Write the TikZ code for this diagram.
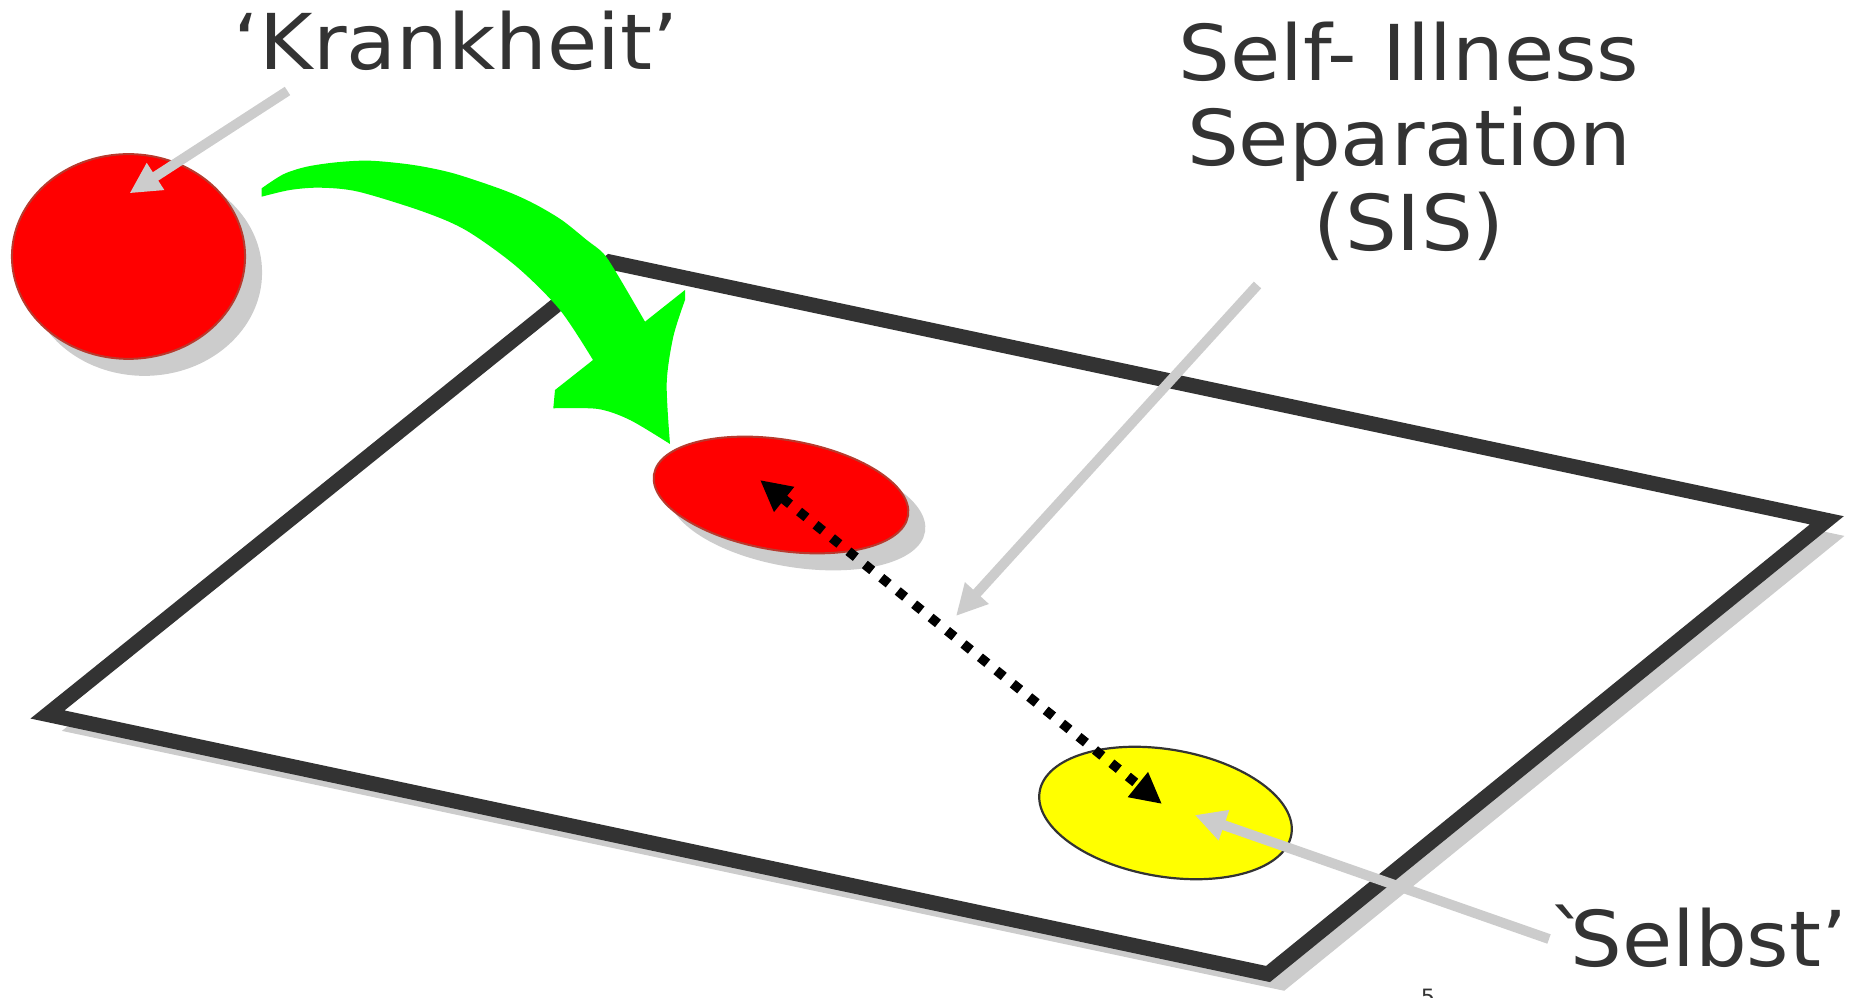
\documentclass[tikz,border=0pt]{standalone}
\usepackage{fontspec}
\newfontfamily\labelfont{DejaVu Sans}[FakeStretch=1.06]
\usetikzlibrary{shapes.geometric,arrows.meta}

\definecolor{inkgray}{HTML}{333333}
\definecolor{shadegray}{HTML}{CCCCCC}
\definecolor{illred}{HTML}{FF0000}
\definecolor{illrim}{HTML}{B83A2E}
\definecolor{selfyellow}{HTML}{FFFF00}
\definecolor{movegreen}{HTML}{00FF00}

\tikzset{
  shadowed/.style={preaction={fill=shadegray, draw=shadegray, transform canvas={shift={(0.16cm,-0.16cm)}}}},
  illness/.style={ellipse, fill=illred, draw=illrim, line width=0.02cm, inner sep=0pt},
  selfdisc/.style={ellipse, fill=selfyellow, draw=inkgray, line width=0.022cm, inner sep=0pt},
  pointer/.style={draw=shadegray, line width=0.1cm, -{Triangle[length=0.31cm,width=0.30cm]}},
  sislink/.style={draw=black, line width=0.095cm, dash pattern=on 0.095cm off 0.116cm,
    {Triangle[length=0.31cm,width=0.30cm]}-{Triangle[length=0.31cm,width=0.30cm]}},
  bigtext/.style={font={\labelfont\fontsize{21.9}{24.2}\selectfont}, text=inkgray, inner sep=0pt},
}

\begin{document}
\begin{tikzpicture}[x=0.01cm, y=-0.01cm]
  \useasboundingbox (0,0) rectangle (1855,998);

  % Board
  \coordinate (bl) at (47.5,714.5);
  \coordinate (bt) at (610,262);
  \coordinate (br) at (1826.8,520.3);
  \coordinate (bb) at (1268,974);
  \draw[shadowed, fill=white, draw=inkgray, line width=0.15cm] (bl) -- (bt) -- (br) -- (bb) -- cycle;

  % Define nodes
  \node[illness, shadowed, minimum width=2.33cm, minimum height=2.046cm]              (krank) at (128.5,256.5) {};
  \node[illness, shadowed, minimum width=2.572cm, minimum height=1.106cm, rotate=-9.2] (ill)   at (781,495) {};
  \node[selfdisc, minimum width=2.552cm, minimum height=1.27cm, rotate=-9.7]           (self)  at (1165.5,813) {};

  % Green move arrow
  \fill[movegreen] plot[smooth] coordinates {(261.7,188.3) (283.3,174.3) (306.7,166.7) (336.7,162.3)
      (370,160.7) (413.3,165) (453.3,173.3) (503.3,190) (533.3,203.3) (561.7,220) (586.7,240)
      (603.3,253.3) (616.7,273.3) (645,321.7)}
    -- (685,290) -- (685,300)
    -- plot[smooth] coordinates {(685,300) (673.3,336.7) (666.7,383.3) (670,444)}
    -- plot[smooth] coordinates {(670,444) (630,420) (598,409) (553.3,408.3)}
    -- (555,390) -- (593,360)
    -- plot[smooth] coordinates {(593,360) (560,310) (516.7,266.7) (466.7,230.7) (423.3,211.7)
      (358.3,191.7) (320,187.7) (290,190) (261.7,196.7)}
    -- cycle;

  % Labels
  \node[bigtext, anchor=base]                 (krankheit) at (456,69.3) {‘Krankheit’};
  \node[bigtext, anchor=north, align=center]  (sislabel)  at (1409,21.4) {Self- Illness\\Separation\\(SIS)};
  \node[bigtext, anchor=base west]            (selbst)    at (1548,966.7) {`\kern-0.25em Selbst’};
  \node[text=inkgray, font=\labelfont\fontsize{6}{7}\selectfont, inner sep=0pt, anchor=north] (page) at (1428,988) {5};

  % Arrow ends
  \coordinate (krankfrom)  at (287.5,91);
  \coordinate (krankto)    at (129.5,193.3);
  \coordinate (sisfrom)    at (1257.5,285);
  \coordinate (sisto)      at (956,616);
  \coordinate (selbstfrom) at (1549,939);
  \coordinate (selbstto)   at (1194.7,815);
  \coordinate (sisA)       at (760,480);
  \coordinate (sisB)       at (1162,804);

  % Connect the nodes
  \draw[sislink] (sisA) -- (sisB);
  \draw[pointer] (krankfrom) -- (krankto);
  \draw[pointer] (sisfrom) -- (sisto);
  \draw[pointer] (selbstfrom) -- (selbstto);

\end{tikzpicture}
\end{document}
